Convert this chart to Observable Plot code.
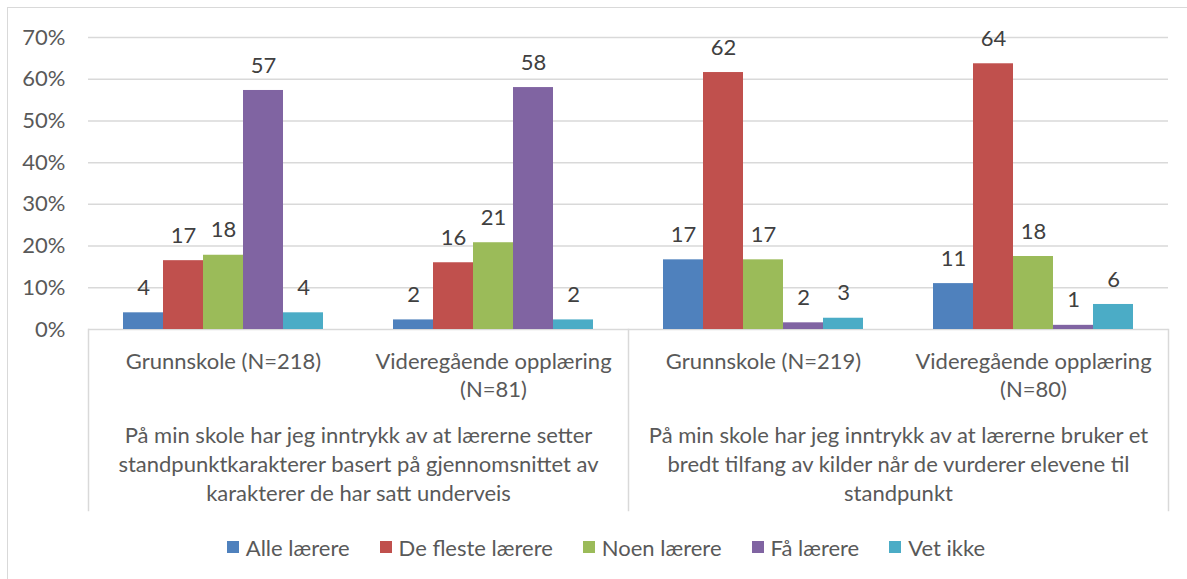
<!DOCTYPE html>
<html>
<head>
<meta charset="utf-8">
<script src="https://cdn.jsdelivr.net/npm/d3@7"></script>
<script src="https://cdn.jsdelivr.net/npm/@observablehq/plot@0.6"></script>
<style>
  html, body { margin: 0; padding: 0; background: #fff; }
  body { width: 1187px; height: 579px; position: relative; overflow: hidden; font-family: Lato, "Open Sans", sans-serif; }
  #border { position: absolute; left: 7px; top: 7px; width: 1300px; height: 700px; border-left: 1.5px solid #d9d9d9; border-top: 1.5px solid #d9d9d9; }
  #chart { position: absolute; left: 0; top: 0; }
  #legend { position: absolute; left: 0; width: 1212px; top: 534px; height: 26px; display: flex; justify-content: center; align-items: center; font-size: 22px; color: #595959; }
  #legend .item { display: inline-flex; align-items: center; margin-right: 30px; }
  #legend .item:last-child { margin-right: 0; }
  #legend .sw { width: 12px; height: 12px; margin-right: 7px; display: inline-block; }
</style>
</head>
<body>
<div id="border"></div>
<div id="chart"></div>
<div id="legend"></div>
<script>
// Categories (groups along the x axis)
const groups = [
  "Grunnskole (N=218)",
  "Videregående opplæring\n(N=81)",
  "Grunnskole (N=219)",
  "Videregående opplæring\n(N=80)"
];
// Statements (second level of x labels), anchored at the first group of each pair
const statements = [
  "På min skole har jeg inntrykk av at lærerne setter\nstandpunktkarakterer basert på gjennomsnittet av\nkarakterer de har satt underveis",
  "På min skole har jeg inntrykk av at lærerne bruker et\nbredt tilfang av kilder når de vurderer elevene til\nstandpunkt"
];
const statementGroups = [groups[0], groups[2]];
// Series
const series = ["Alle lærere", "De fleste lærere", "Noen lærere", "Få lærere", "Vet ikke"];
const colors = ["#4F81BD", "#C0504D", "#9BBB59", "#8064A2", "#4BACC6"];
// Series values (percent), per group
const alleLaerere = [4.0, 2.3, 16.7, 11.0];
const deFlesteLaerere = [16.5, 16.0, 61.6, 63.7];
const noenLaerere = [17.8, 20.8, 16.7, 17.5];
const faaLaerere = [57.3, 58.0, 1.6, 1.0];
const vetIkke = [4.0, 2.3, 2.7, 6.0];
// Y ticks
const yTicks = [0, 10, 20, 30, 40, 50, 60, 70];

const seriesValues = [alleLaerere, deFlesteLaerere, noenLaerere, faaLaerere, vetIkke];
const data = [];
groups.forEach((g, gi) => {
  series.forEach((s, si) => {
    data.push({group: g, series: s, value: seriesValues[si][gi]});
  });
});
const statementData = statements.map((t, i) => ({label: t, group: statementGroups[i]}));

const lineColor = "#d9d9d9";
const FS = 22;

const chart = Plot.plot({
  width: 1187,
  height: 520,
  marginTop: 37,
  marginBottom: 191,
  marginLeft: 88,
  marginRight: 19,
  style: {fontFamily: "Lato, 'Open Sans', sans-serif", fontSize: FS + "px", color: "#595959", background: "transparent"},
  fx: {domain: groups, padding: 0, axis: null, label: null},
  x: {domain: series, paddingInner: 0, paddingOuter: 0.81, axis: null, label: null},
  y: {domain: [0, 70], axis: null, label: null},
  color: {domain: series, range: colors},
  marks: [
    Plot.gridY(yTicks, {stroke: lineColor, strokeOpacity: 1, strokeWidth: 1.5}),
    Plot.axisY(yTicks, {tickSize: 0, tickPadding: 23, tickFormat: d => d + "%", fill: "#595959", fontSize: FS, label: null}),
    Plot.barY(data, {fx: "group", x: "series", y: "value", fill: "series"}),
    Plot.text(data, {fx: "group", x: "series", y: "value", text: d => String(Math.round(d.value)), dy: -25, lineAnchor: "middle", fill: "#404040", fontSize: FS}),
    Plot.axisFx({anchor: "bottom", tickSize: 0, tickPadding: 19, lineHeight: 1.28, fill: "#595959", fontSize: FS, label: null}),
    Plot.text(statementData, {fx: "group", text: "label", frameAnchor: "bottom-right", textAnchor: "middle", lineAnchor: "top", dy: 93, lineHeight: 1.32, fill: "#595959", fontSize: FS}),
    Plot.frame({anchor: "left", fx: () => groups[0], stroke: lineColor, strokeWidth: 1.5, insetTop: 292, insetBottom: -181}),
    Plot.frame({anchor: "left", fx: () => groups[2], stroke: lineColor, strokeWidth: 1.5, insetTop: 292, insetBottom: -181}),
    Plot.frame({anchor: "right", fx: () => groups[3], stroke: lineColor, strokeWidth: 1.5, insetTop: 292, insetBottom: -181})
  ]
});
document.getElementById("chart").appendChild(chart);

const legend = d3.select("#legend");
series.forEach((s, i) => {
  const item = legend.append("span").attr("class", "item");
  item.append("span").attr("class", "sw").style("background", colors[i]);
  item.append("span").text(s);
});
</script>
</body>
</html>
